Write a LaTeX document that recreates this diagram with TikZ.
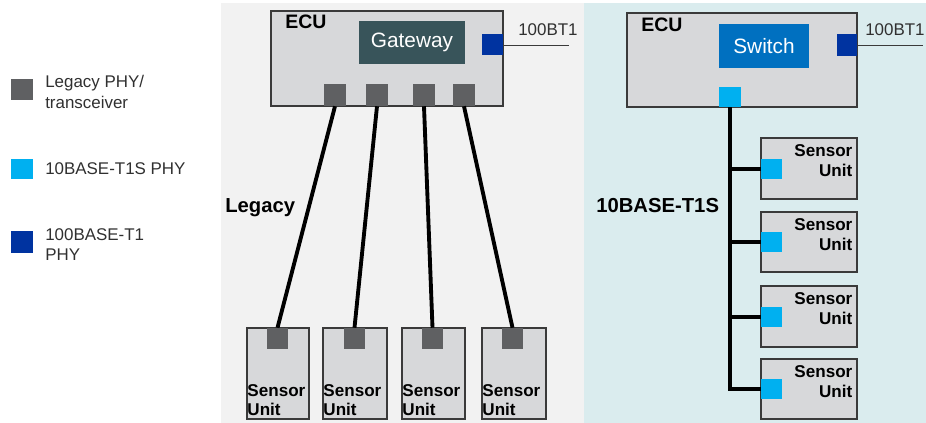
\documentclass[tikz,border=0pt]{standalone}
\usepackage{fontspec}
\setmainfont{Liberation Sans}
\usetikzlibrary{fit}

\definecolor{panelL}{HTML}{F2F2F2}
\definecolor{panelR}{HTML}{DAECEE}
\definecolor{boxfill}{HTML}{D7D8DA}
\definecolor{boxline}{HTML}{3A3A3A}
\definecolor{legacyphy}{HTML}{5F6062}
\definecolor{tosphy}{HTML}{00B0F0}
\definecolor{hbtphy}{HTML}{0033A0}
\definecolor{gwfill}{HTML}{38545A}
\definecolor{swfill}{HTML}{0070C0}
\definecolor{legtext}{HTML}{303030}

\tikzset{
  unitbox/.style={draw=boxline, line width=0.9pt, fill=boxfill, inner sep=0pt},
  chip/.style={draw=none, inner sep=0pt},
  phy/.style={draw=none, inner sep=0pt},
  wire/.style={line width=2.9pt, line cap=butt},
  stub/.style={line width=0.7pt, draw=boxline},
  lbl/.style={inner sep=0pt, anchor=north west},
  legfont/.style={font=\fontsize{12.7}{15.5}\selectfont, text=legtext, align=left},
  boldbig/.style={font=\bfseries\fontsize{15.2}{18}\selectfont},
  ecufont/.style={font=\bfseries\fontsize{14.6}{17}\selectfont},
  chipfont/.style={font=\fontsize{15.6}{18}\selectfont, text=white},
  unitfont/.style={font=\bfseries\fontsize{12.8}{14.3}\selectfont},
  smallfont/.style={font=\fontsize{12.7}{15}\selectfont, text=legtext}
}

\begin{document}
\begin{tikzpicture}[x=0.75pt, y=-0.75pt]
\useasboundingbox (0,0) rectangle (926,423);

% background panels
\fill[panelL] (221,3) rectangle (584,423);
\fill[panelR] (584,3) rectangle (926,423);

% ---------- legend ----------
\node[phy, fill=legacyphy, fit={(11,79)(33,100)}] (legA) {};
\node[phy, fill=tosphy,    fit={(11,159)(33,179)}] (legB) {};
\node[phy, fill=hbtphy,    fit={(11,231)(33,253)}] (legC) {};
\node[lbl, legfont] (legAtext) at (45,75)  {Legacy PHY/\\transceiver};
\node[lbl, legfont] (legBtext) at (45,162) {10BASE-T1S PHY};
\node[lbl, legfont] (legCtext) at (45,228) {100BASE-T1\\PHY};

% ---------- legacy architecture ----------
\node[unitbox, fit={(271,11)(503,106)}] (ecuL) {};
\node[lbl, ecufont] (ecuLtext) at (285,15) {ECU};
\node[chip, fill=gwfill, fit={(359,21)(465,64)}] (gw) {};
\node[chipfont] (gwtext) at (gw.center) {Gateway};
\node[phy, fill=hbtphy, fit={(482,34)(503,55)}] (hbL) {};
\coordinate (hbLend) at (569,45);
\draw[stub] (hbL.east |- hbLend) -- (hbLend);
\node[lbl, smallfont] (hbLtext) at (518,23) {100BT1};

\node[phy, fill=legacyphy, fit={(324,84)(346,106)}] (lp1) {};
\node[phy, fill=legacyphy, fit={(366,84)(388,106)}] (lp2) {};
\node[phy, fill=legacyphy, fit={(413,84)(435,106)}] (lp3) {};
\node[phy, fill=legacyphy, fit={(453,84)(475,106)}] (lp4) {};

\node[unitbox, fit={(247,328)(309,419)}] (su1) {};
\node[unitbox, fit={(323,328)(387,419)}] (su2) {};
\node[unitbox, fit={(402,328)(465,419)}] (su3) {};
\node[unitbox, fit={(482,328)(546,419)}] (su4) {};
\node[phy, fill=legacyphy, fit={(267,328)(288,349)}] (sp1) {};
\node[phy, fill=legacyphy, fit={(344,328)(365,349)}] (sp2) {};
\node[phy, fill=legacyphy, fit={(422,328)(443,349)}] (sp3) {};
\node[phy, fill=legacyphy, fit={(502,328)(523,349)}] (sp4) {};
\foreach \i in {1,...,4}{
  \node[unitfont, align=left, anchor=south west, inner xsep=0.6pt, inner ysep=3pt]
    (su\i text) at (su\i.south west) {Sensor\\Unit};
  \draw[wire] (lp\i.south) -- (sp\i.north);
}
\node[lbl, boldbig] (legacytext) at (225,198) {Legacy};

% ---------- 10BASE-T1S architecture ----------
\node[unitbox, fit={(627,13)(857,107)}] (ecuR) {};
\node[lbl, ecufont] (ecuRtext) at (641,18) {ECU};
\node[chip, fill=swfill, fit={(719,24)(809,68)}] (sw) {};
\node[chipfont] (swtext) at (sw.center) {Switch};
\node[phy, fill=hbtphy, fit={(837,34)(857,56)}] (hbR) {};
\coordinate (hbRend) at (923,45);
\draw[stub] (hbR.east |- hbRend) -- (hbRend);
\node[lbl, smallfont] (hbRtext) at (865,23) {100BT1};
\node[phy, fill=tosphy, fit={(719,87)(741,107)}] (cp) {};

\node[unitbox, fit={(761,138)(857,199)}] (ru1) {};
\node[unitbox, fit={(761,212)(857,272)}] (ru2) {};
\node[unitbox, fit={(761,286)(857,347)}] (ru3) {};
\node[unitbox, fit={(761,359)(857,419)}] (ru4) {};
\node[phy, fill=tosphy, fit={(761,159)(782,179)}] (rp1) {};
\node[phy, fill=tosphy, fit={(761,232)(782,252)}] (rp2) {};
\node[phy, fill=tosphy, fit={(761,307)(782,327)}] (rp3) {};
\node[phy, fill=tosphy, fit={(761,379)(782,399)}] (rp4) {};
\foreach \i in {1,...,4}{
  \node[unitfont, align=right, anchor=north east, inner xsep=3.75pt, inner ysep=5pt,
        font=\bfseries\fontsize{12.8}{15}\selectfont]
    (ru\i text) at (ru\i.north east) {Sensor\\Unit};
}

% shared bus with its drops
\draw[wire, line width=3pt, line join=miter] (cp.south) -- (cp.south |- rp4.west) -- (rp4.west);
\draw[wire, line width=3.7pt] (cp.south |- rp1.west) -- (rp1.west);
\draw[wire, line width=2.4pt] (cp.south |- rp2.west) -- (rp2.west);
\draw[wire, line width=3.7pt] (cp.south |- rp3.west) -- (rp3.west);
\node[lbl, boldbig] (t1stext) at (596,198) {10BASE-T1S};
\end{tikzpicture}
\end{document}
